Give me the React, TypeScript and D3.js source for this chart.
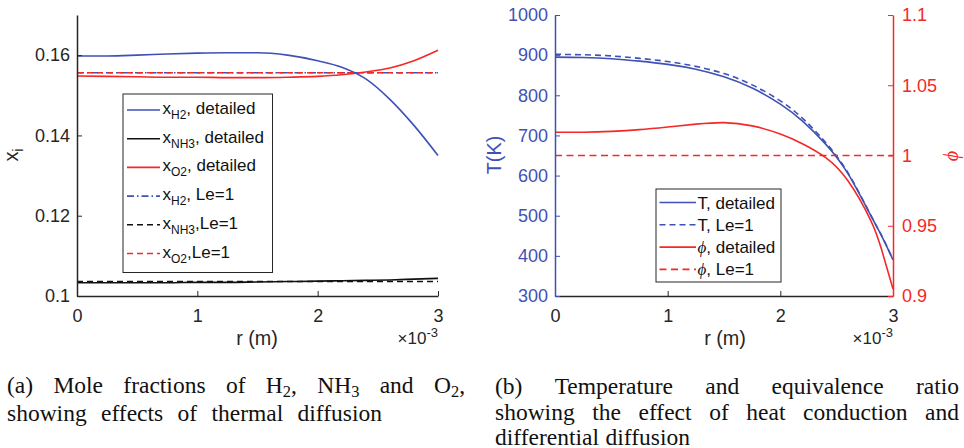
import React, { useEffect, useRef } from 'react';
import * as d3 from 'd3';

// radial position, in units of 1e-3 m (axis carries the x10^-3 multiplier)
const rMole = [0, 0.25, 0.5, 0.75, 1, 1.25, 1.5, 1.75, 2, 2.2, 2.4, 2.6, 2.8, 3];
const xH2Detailed = [0.1598, 0.1598, 0.16, 0.1603, 0.1605, 0.1606, 0.1606, 0.16, 0.1586, 0.157, 0.1541, 0.149, 0.1425, 0.135];
const xNH3Detailed = [0.1033, 0.1033, 0.1033, 0.1033, 0.1034, 0.1034, 0.1035, 0.1036, 0.1037, 0.1038, 0.1039, 0.104, 0.1042, 0.1044];
const xO2Detailed = [0.1548, 0.1547, 0.1546, 0.1545, 0.1545, 0.1544, 0.1544, 0.1545, 0.1547, 0.1551, 0.1558, 0.1568, 0.1586, 0.1612];
const rLe1 = [0, 3];
const xH2Le1 = [0.1556, 0.1556];
const xNH3Le1 = [0.1036, 0.1036];
const xO2Le1 = [0.1556, 0.1556];

const rTemp = [0, 0.25, 0.5, 0.75, 1, 1.25, 1.5, 1.75, 2, 2.2, 2.4, 2.6, 2.8, 2.9, 3];
const tDetailed = [895, 894, 891, 885, 877, 865, 846, 818, 778, 735, 679, 605, 502, 449, 390];
const tLe1 = [902, 901, 898, 892, 884, 872, 854, 826, 786, 742, 683, 607, 503, 450, 391];
const phiDetailed = [1.0165, 1.0166, 1.0172, 1.0184, 1.0203, 1.0223, 1.0234, 1.0211, 1.0153, 1.0082, 0.9986, 0.982, 0.9542, 0.9327, 0.905];
const phiLe1 = [1, 1];

const rTicks = [0, 1, 2, 3];
const moleTicks = [0.1, 0.12, 0.14, 0.16];
const tempTicks = [300, 400, 500, 600, 700, 800, 900, 1000];
const phiTicks = [0.9, 0.95, 1, 1.05, 1.1];

const captionA = ['(a) Mole fractions of H_2, NH_3 and O_2,', 'showing effects of thermal diffusion'];
const captionB = ['(b) Temperature and equivalence ratio', 'showing the effect of heat conduction and', 'differential diffusion'];

const SANS = '"Liberation Sans", Arial, Helvetica, sans-serif';
const SERIF = '"Liberation Serif", "Times New Roman", serif';
const AX = '#262626';
const BLUE = '#3f51b5';
const RED = '#f52828';
const CAP_SIZE = 23.5;

type Seg = { t: string; shift?: number; size?: number; italic?: boolean };

// write text made of pieces with sub/superscripts
const appendRich = (text, segs: Seg[]) => {
  let cur = 0;
  segs.forEach((s) => {
    const shift = s.shift || 0;
    const ts = text.append('tspan').text(s.t);
    if (shift !== cur) ts.attr('dy', shift - cur);
    cur = shift;
    if (s.size) ts.attr('font-size', s.size);
    if (s.italic) ts.attr('font-style', 'italic').attr('font-family', SERIF);
  });
};

const styleAxis = (g, color) => {
  g.attr('font-family', SANS).attr('font-size', 18);
  g.select('.domain').attr('stroke', color).attr('stroke-width', 1.5);
  g.selectAll('.tick line').attr('stroke', color).attr('stroke-width', 1);
  g.selectAll('.tick text').attr('fill', color);
};

const sub = (t: string): Seg => ({ t, shift: 5, size: 12 });

const drawMole = (svg) => {
  const x = d3.scaleLinear().domain([0, 3]).range([77, 438]);
  const y = d3.scaleLinear().domain([0.1, 0.17]).range([296, 15]);

  const series = [
    { r: rMole, v: xH2Detailed, color: BLUE, dash: null, label: [{ t: 'x' }, sub('H2'), { t: ', detailed' }] },
    { r: rMole, v: xNH3Detailed, color: '#111', dash: null, label: [{ t: 'x' }, sub('NH3'), { t: ', detailed' }] },
    { r: rMole, v: xO2Detailed, color: RED, dash: null, label: [{ t: 'x' }, sub('O2'), { t: ', detailed' }] },
    { r: rLe1, v: xH2Le1, color: BLUE, dash: '7,3,1.5,3', label: [{ t: 'x' }, sub('H2'), { t: ', Le=1' }] },
    { r: rLe1, v: xNH3Le1, color: '#111', dash: '6,4', label: [{ t: 'x' }, sub('NH3'), { t: ',Le=1' }] },
    { r: rLe1, v: xO2Le1, color: RED, dash: '6,4', label: [{ t: 'x' }, sub('O2'), { t: ',Le=1' }] },
  ];

  series.forEach((s) => {
    const line = d3
      .line<number>()
      .x((_, i) => x(s.r[i]))
      .y((d) => y(d))
      .curve(d3.curveMonotoneX);
    svg
      .append('path')
      .attr('d', line(s.v))
      .attr('fill', 'none')
      .attr('stroke', s.color)
      .attr('stroke-width', 1.6)
      .attr('stroke-dasharray', s.dash);
  });

  const yAxis = svg
    .append('g')
    .attr('transform', 'translate(77,0)')
    .call(d3.axisLeft(y).tickValues(moleTicks).tickFormat((d) => String(d)).tickSize(-5).tickSizeOuter(0).tickPadding(7));
  styleAxis(yAxis, AX);

  const xAxis = svg
    .append('g')
    .attr('transform', 'translate(0,296)')
    .call(d3.axisBottom(x).tickValues(rTicks).tickFormat((d) => String(d)).tickSize(-5).tickSizeOuter(0).tickPadding(13));
  styleAxis(xAxis, AX);

  // axis labels
  svg
    .append('text')
    .attr('x', 257)
    .attr('y', 345)
    .attr('text-anchor', 'middle')
    .attr('font-family', SANS)
    .attr('font-size', 19.8)
    .attr('fill', AX)
    .text('r (m)');
  const exp = svg
    .append('text')
    .attr('x', 438)
    .attr('y', 344)
    .attr('text-anchor', 'end')
    .attr('font-family', SANS)
    .attr('font-size', 17)
    .attr('fill', AX);
  appendRich(exp, [{ t: '×10' }, { t: '-3', shift: -7, size: 13 }]);

  const yl = svg
    .append('text')
    .attr('transform', 'translate(18,155) rotate(-90)')
    .attr('text-anchor', 'middle')
    .attr('font-family', SANS)
    .attr('font-size', 19.8)
    .attr('fill', AX);
  appendRich(yl, [{ t: 'x' }, { t: 'i', shift: 5, size: 14 }]);

  // legend
  const lg = svg.append('g');
  lg.append('rect')
    .attr('x', 123)
    .attr('y', 94)
    .attr('width', 149.5)
    .attr('height', 178.5)
    .attr('fill', 'white')
    .attr('stroke', AX)
    .attr('stroke-width', 1);
  series.forEach((s, i) => {
    const ry = 110 + i * 28.7;
    lg.append('line')
      .attr('x1', 127)
      .attr('x2', 160)
      .attr('y1', ry)
      .attr('y2', ry)
      .attr('stroke', s.color)
      .attr('stroke-width', 1.6)
      .attr('stroke-dasharray', s.dash);
    const t = lg
      .append('text')
      .attr('x', 162.5)
      .attr('y', ry + 4)
      .attr('font-family', SANS)
      .attr('font-size', 17)
      .attr('fill', '#111');
    appendRich(t, s.label);
  });
};

const drawTemp = (svg) => {
  const x = d3.scaleLinear().domain([0, 3]).range([555, 893]);
  const yT = d3.scaleLinear().domain([300, 1000]).range([296, 15]);
  const yP = d3.scaleLinear().domain([0.9, 1.1]).range([296, 15]);

  const series = [
    { r: rTemp, v: tDetailed, y: yT, color: BLUE, dash: null, label: [{ t: 'T, detailed' }] },
    { r: rTemp, v: tLe1, y: yT, color: BLUE, dash: '6,4', label: [{ t: 'T, Le=1' }] },
    { r: rTemp, v: phiDetailed, y: yP, color: RED, dash: null, label: [{ t: 'ϕ', italic: true }, { t: ', detailed' }] },
    { r: rLe1, v: phiLe1, y: yP, color: RED, dash: '7,4.5', label: [{ t: 'ϕ', italic: true }, { t: ', Le=1' }] },
  ];

  series.forEach((s) => {
    const line = d3
      .line<number>()
      .x((_, i) => x(s.r[i]))
      .y((d) => s.y(d))
      .curve(d3.curveNatural);
    svg
      .append('path')
      .attr('d', line(s.v))
      .attr('fill', 'none')
      .attr('stroke', s.color)
      .attr('stroke-width', 1.6)
      .attr('stroke-dasharray', s.dash);
  });

  const xAxis = svg
    .append('g')
    .attr('transform', 'translate(0,296)')
    .call(d3.axisBottom(x).tickValues(rTicks).tickFormat((d) => String(d)).tickSize(-5).tickSizeOuter(0).tickPadding(13));
  styleAxis(xAxis, AX);

  const lAxis = svg
    .append('g')
    .attr('transform', 'translate(555,0)')
    .call(d3.axisLeft(yT).tickValues(tempTicks).tickFormat((d) => String(d)).tickSize(-5).tickSizeOuter(0).tickPadding(7));
  styleAxis(lAxis, BLUE);

  const rAxis = svg
    .append('g')
    .attr('transform', 'translate(893,0)')
    .call(d3.axisRight(yP).tickValues(phiTicks).tickFormat((d) => String(d)).tickSize(-5).tickSizeOuter(0).tickPadding(9));
  styleAxis(rAxis, RED);

  svg
    .append('text')
    .attr('x', 725)
    .attr('y', 345)
    .attr('text-anchor', 'middle')
    .attr('font-family', SANS)
    .attr('font-size', 19.8)
    .attr('fill', AX)
    .text('r (m)');
  const exp = svg
    .append('text')
    .attr('x', 893)
    .attr('y', 344)
    .attr('text-anchor', 'end')
    .attr('font-family', SANS)
    .attr('font-size', 17)
    .attr('fill', AX);
  appendRich(exp, [{ t: '×10' }, { t: '-3', shift: -7, size: 13 }]);

  svg
    .append('text')
    .attr('transform', 'translate(501,155) rotate(-90)')
    .attr('text-anchor', 'middle')
    .attr('font-family', SANS)
    .attr('font-size', 19.8)
    .attr('fill', BLUE)
    .text('T(K)');
  svg
    .append('text')
    .attr('transform', 'translate(958,156) rotate(-90)')
    .attr('text-anchor', 'middle')
    .attr('font-family', SERIF)
    .attr('font-style', 'italic')
    .attr('font-size', 20)
    .attr('fill', RED)
    .text('ϕ');

  // legend
  const lg = svg.append('g');
  lg.append('rect')
    .attr('x', 656)
    .attr('y', 189)
    .attr('width', 125)
    .attr('height', 93)
    .attr('fill', 'white')
    .attr('stroke', AX)
    .attr('stroke-width', 1);
  series.forEach((s, i) => {
    const ry = 202.5 + i * 22.3;
    lg.append('line')
      .attr('x1', 659.5)
      .attr('x2', 696)
      .attr('y1', ry)
      .attr('y2', ry)
      .attr('stroke', s.color)
      .attr('stroke-width', 1.6)
      .attr('stroke-dasharray', s.dash);
    const t = lg
      .append('text')
      .attr('x', 697.5)
      .attr('y', ry + 6)
      .attr('font-family', SANS)
      .attr('font-size', 17)
      .attr('fill', '#111');
    appendRich(t, s.label);
  });
};

// split "H_2," into pieces, the char after _ is a subscript
const parseWord = (w: string): Seg[] =>
  w
    .split(/(_\w)/)
    .filter((p) => p.length)
    .map((p) => (p[0] === '_' ? { t: p.slice(1), shift: 4, size: CAP_SIZE * 0.7 } : { t: p }));

// lines are justified between x0 and the given right edge; null = natural spacing
const drawCaption = (svg, lines: string[], x0: number, rights: (number | null)[], baselines: number[]) => {
  lines.forEach((ln, li) => {
    const words = ln.split(' ');
    const nodes = words.map((w) => {
      const t = svg
        .append('text')
        .attr('y', baselines[li])
        .attr('font-family', SERIF)
        .attr('font-size', CAP_SIZE)
        .attr('fill', '#111');
      appendRich(t, parseWord(w));
      return t;
    });
    const widths = nodes.map((n) => n.node().getComputedTextLength());
    const total = d3.sum(widths);
    const right = rights[li];
    const gap = right == null ? CAP_SIZE * 0.28 : (right - x0 - total) / (words.length - 1);
    let cx = x0;
    nodes.forEach((n, i) => {
      n.attr('x', cx);
      cx += widths[i] + gap;
    });
  });
};

export default function App() {
  const svgRef = useRef<SVGSVGElement>(null);

  useEffect(() => {
    const svg = d3.select(svgRef.current);
    svg.selectAll('*').remove();
    svg.append('rect').attr('width', 964).attr('height', 448).attr('fill', 'white');
    drawMole(svg);
    drawTemp(svg);
    drawCaption(svg, captionA, 7, [465, 382], [393, 420.5]);
    drawCaption(svg, captionB, 495, [959, 959, null], [393.5, 419.5, 444.5]);
  }, []);

  return (
    <svg
      ref={svgRef}
      width={964}
      height={448}
      style={{ position: 'absolute', left: 0, top: 0, background: 'white' }}
    />
  );
}
